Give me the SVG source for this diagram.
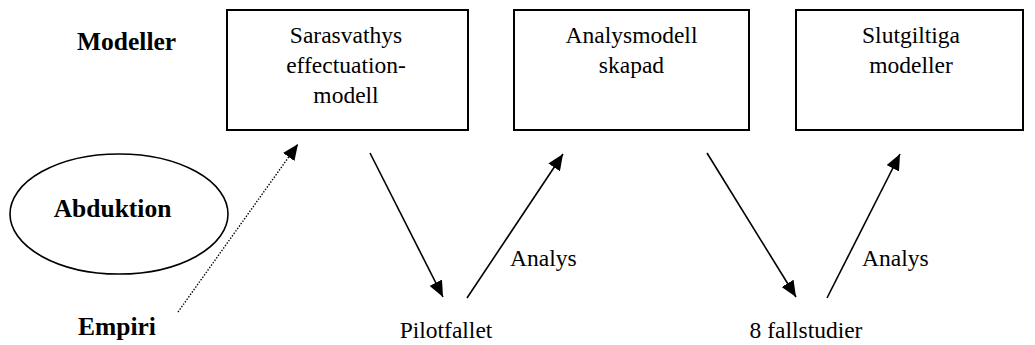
<svg xmlns="http://www.w3.org/2000/svg" width="1035" height="345" viewBox="0 0 1035 345">
<style>
.box{fill:#fff;stroke:#000;stroke-width:2}
text{font-family:'Liberation Serif','Times New Roman',serif;font-size:23.5px;fill:#000}
.c{text-anchor:middle}
.b{font-weight:bold;font-size:25.5px}
.ln{stroke:#000;stroke-width:1.6;fill:none}
.dot{stroke:#000;stroke-width:1.4;fill:none;stroke-dasharray:1.4 1.6}
</style>
<defs>
<marker id="ah" markerUnits="userSpaceOnUse" markerWidth="17" markerHeight="14" refX="16" refY="7" orient="auto">
<path d="M0,0 L16,7 L0,14 z" fill="#000"/>
</marker>
</defs>
<rect width="1035" height="345" fill="#fff"/>
<g font-family="Liberation Serif, serif">
<g id="label-modeller"><text class="b" x="77" y="50">Modeller</text></g>
<g id="label-empiri"><text class="b" x="78" y="335">Empiri</text></g>
<g id="abduktion">
<ellipse cx="119" cy="214" rx="109" ry="60" fill="none" stroke="#000" stroke-width="1.6"/>
<text class="b c" x="112.5" y="217">Abduktion</text>
</g>
<g id="sarasvathys">
<rect class="box" x="227" y="10" width="241" height="120"/>
<text class="c" x="346" y="43">Sarasvathys</text>
<text class="c" x="346" y="73">effectuation-</text>
<text class="c" x="346" y="103">modell</text>
</g>
<g id="analysmodell">
<rect class="box" x="514" y="10" width="235" height="120"/>
<text class="c" x="631.5" y="43">Analysmodell</text>
<text class="c" x="631.5" y="73">skapad</text>
</g>
<g id="slutgiltiga">
<rect class="box" x="796" y="10" width="227" height="120"/>
<text class="c" x="911" y="43">Slutgiltiga</text>
<text class="c" x="911" y="73">modeller</text>
</g>
<g id="pilotfallet"><text class="c" x="446" y="338">Pilotfallet</text></g>
<g id="fallstudier"><text class="c" x="806" y="338">8 fallstudier</text></g>
<g id="connectors">
<line class="dot" x1="178" y1="312" x2="298" y2="144" marker-end="url(#ah)"/>
<line class="ln" x1="370" y1="153" x2="443" y2="297" marker-end="url(#ah)"/>
<line class="ln" x1="467" y1="298" x2="563" y2="154" marker-end="url(#ah)"/>
<line class="ln" x1="707" y1="153" x2="796" y2="297" marker-end="url(#ah)"/>
<line class="ln" x1="827" y1="298" x2="900" y2="154" marker-end="url(#ah)"/>
<text x="510" y="266">Analys</text>
<text x="862" y="266">Analys</text>
</g>
</g>
</svg>
